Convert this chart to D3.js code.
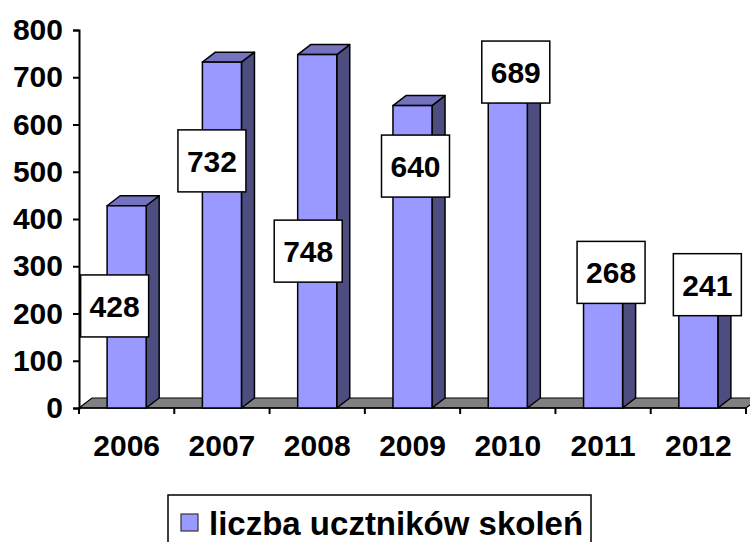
<!DOCTYPE html>
<html>
<head>
<meta charset="utf-8">
<script src="https://cdn.jsdelivr.net/npm/d3@7"></script>
<style>
  body { margin: 0; background: #fff; }
  text { font-family: "Liberation Sans", Arial, sans-serif; font-weight: bold; }
</style>
</head>
<body>
<div id="vis"></div>
<script>
// data
const YEARS = ["2006", "2007", "2008", "2009", "2010", "2011", "2012"];
const COUNTS = [428, 732, 748, 640, 689, 268, 241];
const Y_TICKS = [0, 100, 200, 300, 400, 500, 600, 700, 800];
const SERIES_NAME = "liczba ucztników skoleń";

// where each value label box sits (value units on y, px shift on x)
const LABEL_AT = [216, 523, 332, 512, 711, 287, 261];
const LABEL_DX = [-12, -10, -9, 3, 8, 8, 9];

// frame
const FRAME_WIDTH = 750;
const FRAME_HEIGHT = 542;
const PLOT = {left: 79, right: 746, top: 30, bottom: 408};
const DEPTH = {dx: 13, dy: 10};

const FRONT = "#9999ff";
const SIDE = "#4d4d80";
const TOP = "#7373c0";

const svg = d3.select("#vis")
  .append("svg")
    .attr("width", FRAME_WIDTH)
    .attr("height", FRAME_HEIGHT);

const X_SCALE = d3.scaleBand()
  .domain(YEARS)
  .range([PLOT.left, PLOT.right])
  .paddingInner(0.59)
  .paddingOuter(0.295);

const Y_SCALE = d3.scaleLinear()
  .domain([0, 800])
  .range([PLOT.bottom, PLOT.top]);

// floor
svg.append("polygon")
  .attr("points", [
    [PLOT.left, PLOT.bottom],
    [PLOT.right, PLOT.bottom],
    [PLOT.right + DEPTH.dx, PLOT.bottom - DEPTH.dy],
    [PLOT.left + DEPTH.dx, PLOT.bottom - DEPTH.dy]
  ].map(p => p.join(",")).join(" "))
  .attr("fill", "#808080")
  .attr("stroke", "#000")
  .attr("stroke-width", 1.2);

// y axis
const yAxis = svg.append("g")
  .attr("transform", "translate(" + PLOT.left + ",0)")
  .call(d3.axisLeft(Y_SCALE).tickValues(Y_TICKS).tickSize(6).tickPadding(10));
yAxis.select(".domain").attr("stroke-width", 2);
yAxis.selectAll(".tick line").attr("stroke-width", 2);
yAxis.selectAll("text")
  .attr("font-size", "30px")
  .attr("font-weight", "bold")
  .attr("font-family", "Liberation Sans, Arial, sans-serif")
  .attr("fill", "#000");

// x axis ticks at category boundaries
const step = X_SCALE.step();
const bounds = d3.range(YEARS.length + 1).map(i => PLOT.left + i * step);
svg.append("g")
  .selectAll("line")
  .data(bounds)
  .enter()
  .append("line")
    .attr("x1", d => d).attr("x2", d => d)
    .attr("y1", PLOT.bottom).attr("y2", PLOT.bottom + 6)
    .attr("stroke", "#000")
    .attr("stroke-width", 2);
svg.append("line")
  .attr("x1", PLOT.left).attr("x2", PLOT.right)
  .attr("y1", PLOT.bottom).attr("y2", PLOT.bottom)
  .attr("stroke", "#000")
  .attr("stroke-width", 1.5);

svg.append("g")
  .selectAll("text")
  .data(YEARS)
  .enter()
  .append("text")
    .attr("x", d => X_SCALE(d) + X_SCALE.bandwidth() / 2)
    .attr("y", 456)
    .attr("text-anchor", "middle")
    .attr("font-size", "30px")
    .text(d => d);

// bars
const rows = YEARS.map((y, i) => ({year: y, value: COUNTS[i], labelAt: LABEL_AT[i], labelDx: LABEL_DX[i]}));
const bars = svg.append("g")
  .selectAll("g")
  .data(rows)
  .enter()
  .append("g");

const pts = arr => arr.map(p => p.join(",")).join(" ");

bars.append("polygon")
  .attr("points", d => {
    const x1 = X_SCALE(d.year) + X_SCALE.bandwidth();
    const y0 = Y_SCALE(0), y1 = Y_SCALE(d.value);
    return pts([[x1, y0], [x1 + DEPTH.dx, y0 - DEPTH.dy], [x1 + DEPTH.dx, y1 - DEPTH.dy], [x1, y1]]);
  })
  .attr("fill", SIDE)
  .attr("stroke", "#000")
  .attr("stroke-width", 1.5)
  .attr("stroke-linejoin", "round");

bars.append("polygon")
  .attr("points", d => {
    const x0 = X_SCALE(d.year), x1 = x0 + X_SCALE.bandwidth();
    const y1 = Y_SCALE(d.value);
    return pts([[x0, y1], [x1, y1], [x1 + DEPTH.dx, y1 - DEPTH.dy], [x0 + DEPTH.dx, y1 - DEPTH.dy]]);
  })
  .attr("fill", TOP)
  .attr("stroke", "#000")
  .attr("stroke-width", 1.5)
  .attr("stroke-linejoin", "round");

bars.append("rect")
  .attr("x", d => X_SCALE(d.year))
  .attr("y", d => Y_SCALE(d.value))
  .attr("width", X_SCALE.bandwidth())
  .attr("height", d => Y_SCALE(0) - Y_SCALE(d.value))
  .attr("fill", FRONT)
  .attr("stroke", "#000")
  .attr("stroke-width", 1.5);

// value labels
const BOX_W = 68, BOX_H = 62;
const labels = svg.append("g")
  .selectAll("g")
  .data(rows)
  .enter()
  .append("g")
    .attr("transform", d => "translate(" +
      (X_SCALE(d.year) + X_SCALE.bandwidth() / 2 + d.labelDx) + "," + Y_SCALE(d.labelAt) + ")");

labels.append("rect")
  .attr("x", -BOX_W / 2)
  .attr("y", -BOX_H / 2)
  .attr("width", BOX_W)
  .attr("height", BOX_H)
  .attr("fill", "#fff")
  .attr("stroke", "#000")
  .attr("stroke-width", 1.5);

labels.append("text")
  .attr("text-anchor", "middle")
  .attr("y", 11)
  .attr("font-size", "30px")
  .text(d => d.value);

// legend
const legend = svg.append("g");
legend.append("rect")
  .attr("x", 168).attr("y", 495)
  .attr("width", 423).attr("height", 70)
  .attr("fill", "#fff")
  .attr("stroke", "#000")
  .attr("stroke-width", 1.5);
legend.append("rect")
  .attr("x", 181).attr("y", 514)
  .attr("width", 17).attr("height", 17)
  .attr("fill", FRONT)
  .attr("stroke", "#333")
  .attr("stroke-width", 1.2);
legend.append("text")
  .attr("x", 209).attr("y", 535)
  .attr("font-size", "33px")
  .text(SERIES_NAME);
</script>
</body>
</html>
